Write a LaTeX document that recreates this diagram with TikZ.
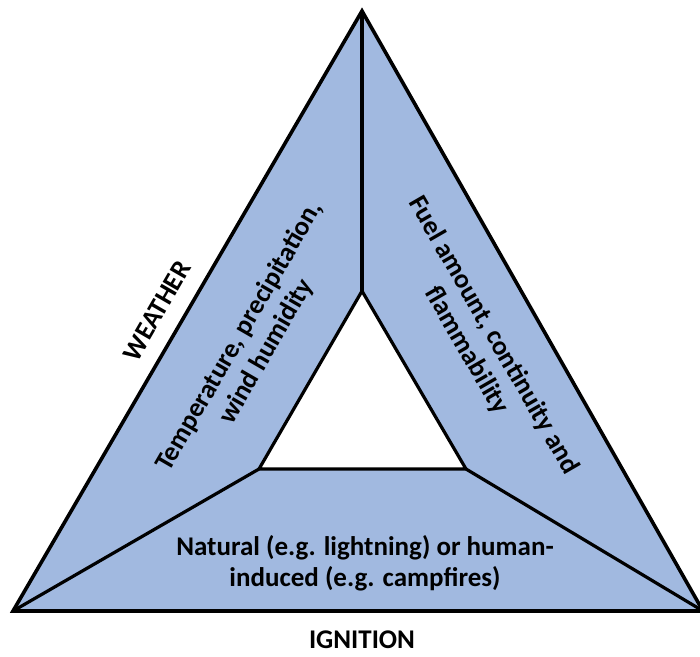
\documentclass[tikz,border=0pt]{standalone}
\usepackage{fontspec}
\setmainfont{Carlito}
\definecolor{fireblue}{RGB}{161,185,224}

\begin{document}
\begin{tikzpicture}[x=1pt,y=-1pt]
\tikzset{side/.style = {draw=black,line width=3.6pt,line join=miter}}
\tikzset{spoke/.style = {draw=black,line width=3.2pt}}
\tikzset{label/.style = {font=\bfseries\fontsize{27}{31}\selectfont,align=center,inner sep=0pt}}
\useasboundingbox (0,0) rectangle (700,656);
% outer and inner corners
\coordinate (top) at (362,11);
\coordinate (left) at (13,611);
\coordinate (right) at (703,611);
\coordinate (itop) at (362,291);
\coordinate (ileft) at (259,469);
\coordinate (iright) at (466,469);
\fill[fireblue] (top) -- (right) -- (left) -- cycle;
\fill[white] (itop) -- (iright) -- (ileft) -- cycle;
\draw[side] (top) -- (right) -- (left) -- cycle;
\draw[spoke] (itop) -- (iright) -- (ileft) -- cycle;
\draw[spoke] (top) -- (itop);
\draw[spoke] (left) -- (ileft);
\draw[spoke] (right) -- (iright);
% labels
\node[label,rotate=60] (weather) at (157,311) {WEATHER};
\node[label] (ignition) at (362,640) {IGNITION};
\node[label,rotate=60] (climate) at (253,344) {Temperature, precipitation,\\wind humidity};
\node[label,rotate=-60] (fuel) at (480,343) {Fuel amount, continuity and\\flammability};
\node[label] (spark) at (365,563) {Natural (e.g. lightning) or human-\\induced (e.g. campfires)};
\end{tikzpicture}
\end{document}
